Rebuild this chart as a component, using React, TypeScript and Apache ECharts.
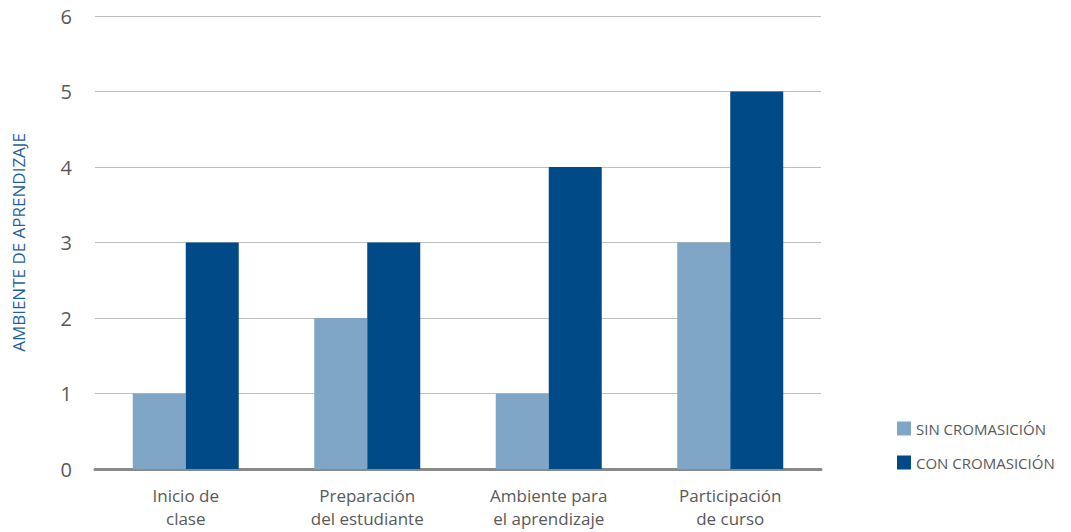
import React, { useEffect, useRef } from "react";
import * as echarts from "echarts";

const categories = [
  "Inicio de\nclase",
  "Preparación\ndel estudiante",
  "Ambiente para\nel aprendizaje",
  "Participación\nde curso",
];
const sinCromasicion = [1, 2, 1, 3];
const conCromasicion = [3, 3, 4, 5];
const seriesNames = ["SIN CROMASICIÓN", "CON CROMASICIÓN"];
const yTicks = { min: 0, max: 6, interval: 1 };

const FONT = "'Open Sans', 'Noto Sans', sans-serif";

export default function App() {
  const ref = useRef<HTMLDivElement>(null);

  useEffect(() => {
    if (!ref.current) return;
    const chart = echarts.init(ref.current, null, { renderer: "svg" });
    chart.setOption({
      animation: false,
      backgroundColor: "#ffffff",
      textStyle: { fontFamily: FONT },
      grid: { left: 95, top: 16, width: 726, height: 453 },
      legend: {
        orient: "vertical",
        left: 892,
        top: 416,
        itemWidth: 14,
        itemHeight: 14,
        itemGap: 19,
        itemStyle: { borderWidth: 0 },
        icon: "rect",
        textStyle: { color: "#595959", fontSize: 15, fontFamily: FONT },
        data: seriesNames,
      },
      xAxis: {
        type: "category",
        data: categories,
        axisLine: { show: true, lineStyle: { color: "#898989", width: 3 } },
        axisTick: { show: false },
        axisLabel: {
          color: "#595959",
          fontSize: 17,
          lineHeight: 23,
          margin: 15,
          interval: 0,
          fontFamily: FONT,
        },
      },
      yAxis: {
        type: "value",
        min: yTicks.min,
        max: yTicks.max,
        interval: yTicks.interval,
        name: "AMBIENTE DE APRENDIZAJE",
        nameLocation: "middle",
        nameGap: 68,
        nameRotate: 90,
        nameTextStyle: { color: "#1f5f9f", fontSize: 17, fontFamily: FONT },
        axisLine: { show: false },
        axisTick: { show: false },
        axisLabel: { color: "#595959", fontSize: 20, margin: 23, fontFamily: FONT },
        splitLine: { lineStyle: { color: "#bfbfbf", width: 1 } },
      },
      series: [
        {
          name: seriesNames[0],
          type: "bar",
          data: sinCromasicion,
          barGap: "0%",
          barCategoryGap: "41.6%",
          itemStyle: { color: "#80a6c7" },
        },
        {
          name: seriesNames[1],
          type: "bar",
          data: conCromasicion,
          barGap: "0%",
          barCategoryGap: "41.6%",
          itemStyle: { color: "#004a87" },
        },
      ],
    });
    return () => chart.dispose();
  }, []);

  return (
    <div
      ref={ref}
      style={{ position: "fixed", left: 0, top: 0, width: 1071, height: 532 }}
    />
  );
}
